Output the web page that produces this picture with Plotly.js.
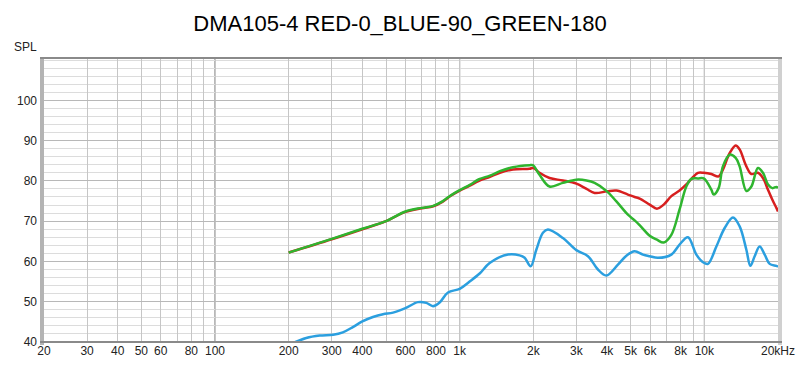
<!DOCTYPE html>
<html>
<head>
<meta charset="utf-8">
<script src="https://cdn.plot.ly/plotly-3.0.1.min.js"></script>
<style>html,body{margin:0;padding:0;background:#fff;}#chart{width:800px;height:367px;}</style>
</head>
<body>
<div id="chart"></div>
<script>
// Frequencies (Hz) and SPL (dB)
var redFreq = [200,300,400,500,600,700,780,850,920,1000,1100,1200,1330,1460,1650,1930,2000,2120,2330,2640,3000,3300,3560,4000,4370,4870,5190,5440,5980,6400,6820,7330,7920,8440,8850,9420,9940,10680,11440,11910,12690,13430,13940,14850,15570,16560,17360,18200,18970,19700,20000];
var redSPL  = [62.2,65.5,68.0,70.0,72.3,73.2,73.7,74.8,76.3,77.6,78.8,80.0,81.0,82.0,82.8,83.0,83.2,82.0,80.7,80.1,79.3,78.0,77.0,77.4,77.6,76.6,76.0,75.6,74.1,73.1,74.1,76.2,77.6,79.1,80.5,82.0,82.0,81.7,81.1,82.8,86.9,88.8,87.8,83.6,81.7,82.0,80.7,77.8,75.3,73.3,72.4];

var greenFreq = [200,300,400,500,600,700,780,850,920,1000,1100,1200,1330,1460,1650,1930,1990,2120,2330,2640,3000,3300,3560,4000,4370,4870,5190,5440,5980,6400,6820,7330,7920,8440,8850,9420,9940,10680,10920,11440,11910,12690,13430,13940,14850,15570,16560,17360,18200,18970,19700,20000];
var greenSPL  = [62.2,65.6,68.1,70.0,72.4,73.3,73.8,74.9,76.4,77.7,79.0,80.4,81.3,82.4,83.4,83.9,83.9,81.5,78.6,79.5,80.3,80.1,79.5,77.4,74.9,71.6,70.2,69.0,66.4,65.4,64.7,66.6,72.9,78.6,80.5,80.6,80.6,77.8,76.6,78.2,83.6,86.5,85.7,83.6,77.5,78.6,83.2,82.0,79.1,78.2,78.5,78.2];

var blueFreq = [200,236,268,304,333,366,400,442,486,534,600,675,731,778,828,896,1000,1098,1207,1326,1575,1758,1843,1950,2057,2189,2294,2643,2997,3344,3673,3975,4434,4800,5188,5608,5976,6462,7330,7923,8570,9275,9871,10345,11197,12106,13090,13942,14849,15419,16057,16830,17643,18493,19696,20000];
var blueSPL  = [39.3,41.0,41.6,41.8,42.4,43.7,45.1,46.2,46.9,47.3,48.4,49.9,49.7,48.9,49.8,52.3,53.2,55.0,57.0,59.6,61.7,61.5,60.9,58.8,62.9,67.1,67.9,65.8,62.8,61.3,58.0,56.5,59.2,61.4,62.5,61.7,61.3,60.9,61.7,64.2,66.0,61.7,59.8,59.4,63.7,68.3,70.9,68.7,62.9,58.9,61.3,63.7,61.7,59.4,58.9,58.7];

// Axis ticks
var gridFreqs = [20,30,40,50,60,70,80,90,100,200,300,400,500,600,700,800,900,1000,2000,3000,4000,5000,6000,7000,8000,9000,10000,20000];
var gridLabels = ['20','30','40','50','60','','80','','100','200','300','400','','600','','800','','1k','2k','3k','4k','5k','6k','','8k','','10k','20kHz'];
var decadeFreqs = [100,1000,10000];

var lineW = 2.5;
var traces = [
  {x: blueFreq, y: blueSPL, mode: 'lines', line: {color: '#2b9fdf', width: lineW, shape: 'spline', smoothing: 1}, hoverinfo: 'skip'},
  {x: redFreq, y: redSPL, mode: 'lines', line: {color: '#d71f1f', width: lineW, shape: 'spline', smoothing: 1}, hoverinfo: 'skip'},
  {x: greenFreq, y: greenSPL, mode: 'lines', line: {color: '#2fb52f', width: lineW, shape: 'spline', smoothing: 1}, hoverinfo: 'skip'}
];

var PW = 734, PH = 284;
var shapes = decadeFreqs.map(function (f) {
  return {type: 'line', xref: 'x', yref: 'paper', x0: f, x1: f, y0: 0, y1: 1, layer: 'between', line: {color: '#707070', width: 1}};
});
shapes.push({type: 'rect', xref: 'paper', yref: 'paper', x0: -4 / PW, x1: 0, y0: -3 / PH, y1: 1, layer: 'above', line: {width: 0}, fillcolor: '#b4b4b4'});
shapes.push({type: 'rect', xref: 'paper', yref: 'paper', x0: 1, x1: 1 + 4 / PW, y0: -3 / PH, y1: 1 + 1 / PH, layer: 'above', line: {width: 0}, fillcolor: '#d0d0d0'});
shapes.push({type: 'line', xref: 'paper', yref: 'paper', x0: -4 / PW, x1: 1 + 4 / PW, y0: 1, y1: 1, layer: 'above', line: {color: '#8a8a8a', width: 2}});
shapes.push({type: 'line', xref: 'paper', yref: 'paper', x0: -4 / PW, x1: 1 + 4 / PW, y0: 0, y1: 0, layer: 'above', line: {color: '#8a8a8a', width: 2}});

var fontFam = 'Arial, "Liberation Sans", sans-serif';
var layout = {
  width: 800, height: 367,
  margin: {l: 44, r: 22, t: 58, b: 25, pad: 0},
  paper_bgcolor: '#ffffff', plot_bgcolor: '#ffffff',
  showlegend: false,
  font: {family: fontFam, size: 12, color: '#222222'},
  title: {text: 'DMA105-4 RED-0_BLUE-90_GREEN-180', font: {family: fontFam, size: 22, color: '#000000'}, x: 0.5, xref: 'container', xanchor: 'center', y: 1 - 23 / 367, yref: 'container', yanchor: 'middle'},
  xaxis: {
    type: 'log', range: [Math.log10(20), Math.log10(20000)],
    tickmode: 'array', tickvals: gridFreqs, ticktext: gridLabels,
    showgrid: true, gridcolor: '#c6c6c6', gridwidth: 1,
    zeroline: false, showline: false, ticks: '', ticklen: 0,
    tickfont: {family: fontFam, size: 12, color: '#222222'},
    fixedrange: true
  },
  yaxis: {
    range: [40, 110.5], tick0: 40, dtick: 10,
    tickmode: 'array', tickvals: [40,50,60,70,80,90,100], ticktext: ['40','50','60','70','80','90','100'],
    showgrid: true, gridcolor: '#b8b8b8', gridwidth: 1,
    minor: {tickmode: 'linear', tick0: 40, dtick: 2, showgrid: true, gridcolor: '#dcdcdc', gridwidth: 1, ticks: ''},
    zeroline: false, showline: false, ticks: '', ticklabelstandoff: 6,
    tickfont: {family: fontFam, size: 12, color: '#222222'},
    fixedrange: true
  },
  shapes: shapes,
  annotations: [
    {text: 'SPL', xref: 'paper', yref: 'paper', x: -5 / PW, y: (342 - 47) / PH, xanchor: 'right', yanchor: 'middle', showarrow: false, font: {family: fontFam, size: 12, color: '#222222'}}
  ]
};

Plotly.newPlot('chart', traces, layout, {staticPlot: true, displayModeBar: false});
</script>
</body>
</html>
